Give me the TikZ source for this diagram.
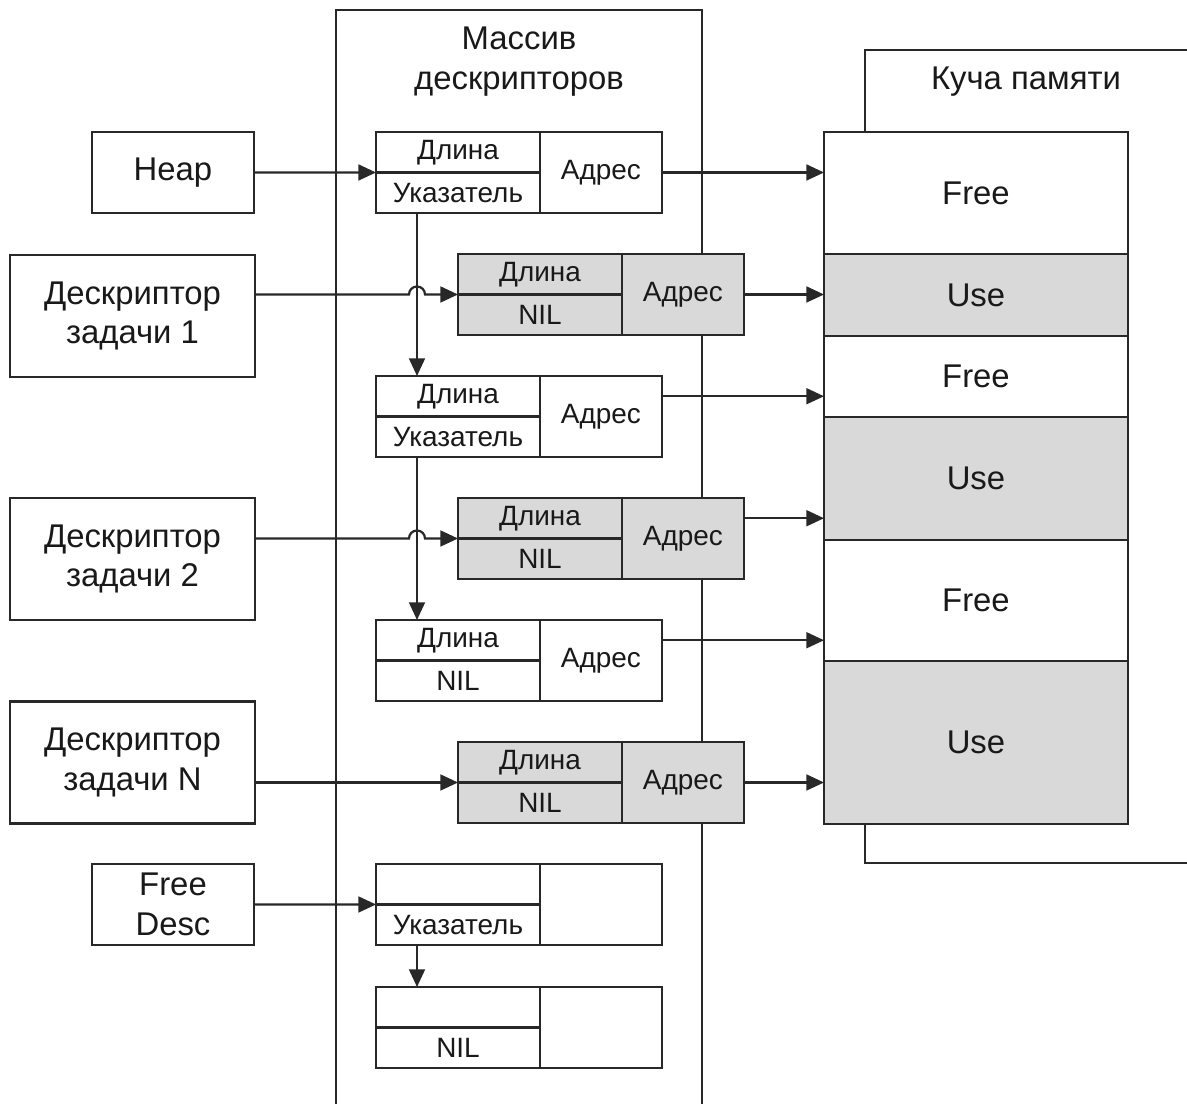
\documentclass[tikz,border=0pt]{standalone}
\usepackage{fontspec}
\setmainfont{Liberation Sans}
\usepackage{xcolor}
\usepackage{tikz}
\usetikzlibrary{arrows.meta, positioning, calc}
\definecolor{LineGray}{RGB}{40, 40, 40}
\definecolor{CellGray}{RGB}{217, 217, 217}
\definecolor{DarkText}{RGB}{25, 25, 25}

\tikzset{
  box/.style={draw=LineGray, line width=1.25pt, fill=white, text=DarkText, inner sep=0pt,
              outer sep=0pt, align=center, font=\fontsize{18.7}{22.7}\selectfont},
  cellL/.style={box, minimum width=3.28cm, minimum height=0.81cm, font=\fontsize{15.9}{19}\selectfont},
  cellR/.style={cellL, minimum width=2.44cm, minimum height=1.62cm},
  memblk/.style={box, minimum width=6.08cm},
  title/.style={text=DarkText, align=center, font=\fontsize{18.7}{22.7}\selectfont},
  frame/.style={draw=LineGray, line width=1.25pt},
  arr/.style={draw=LineGray, line width=1.25pt, -{Triangle[length=10pt, width=9pt]}}
}

% one descriptor: name, left x, top y, fill, upper, lower, right
\newcommand{\descrec}[7]{%
  \node[cellL, fill=#4, anchor=north west] (#1a) at (#2,#3) {#5};
  \node[cellL, fill=#4, below=0pt of #1a] (#1b) {#6};
  \node[cellR, fill=#4, anchor=north west] (#1c) at (#1a.north east) {#7};
}

\begin{document}
\begin{tikzpicture}[x=0.02cm, y=-0.02cm]
    \useasboundingbox (0,0) rectangle (1187,1104);

    % frames
    \draw[frame] (336,1104) -- (336,10) -- (702,10) -- (702,1104);
    \draw[frame] (1187,50) -- (865,50) -- (865,863) -- (1187,863);
    \node[title] (arraytitle) at (519,62) {Массив\\дескрипторов};
    \node[title] (heaptitle) at (1026,82) {Куча памяти};

    % memory
    \node[memblk, anchor=north west, minimum height=2.44cm] (m1) at (824,132) {Free};
    \node[memblk, fill=CellGray, minimum height=1.64cm, below=0pt of m1] (m2) {Use};
    \node[memblk, minimum height=1.62cm, below=0pt of m2] (m3) {Free};
    \node[memblk, fill=CellGray, minimum height=2.46cm, below=0pt of m3] (m4) {Use};
    \node[memblk, minimum height=2.42cm, below=0pt of m4] (m5) {Free};
    \node[memblk, fill=CellGray, minimum height=3.26cm, below=0pt of m5] (m6) {Use};

    % descriptors
    \descrec{b1}{376}{132}{white}{Длина}{Указатель}{Адрес}
    \descrec{g2}{458}{254}{CellGray}{Длина}{NIL}{Адрес}
    \descrec{b3}{376}{376}{white}{Длина}{Указатель}{Адрес}
    \descrec{g4}{458}{498}{CellGray}{Длина}{NIL}{Адрес}
    \descrec{b5}{376}{620}{white}{Длина}{NIL}{Адрес}
    \descrec{g6}{458}{742}{CellGray}{Длина}{NIL}{Адрес}
    \descrec{f1}{376}{864}{white}{}{Указатель}{}
    \descrec{f2}{376}{987}{white}{}{NIL}{}

    % owners
    \node[box, minimum width=3.24cm, minimum height=1.62cm] (heap) at (173,172.5) {Heap};
    \node[box, minimum width=4.9cm, minimum height=2.44cm] (task1) at (132.5,316) {Дескриптор\\задачи 1};
    \node[box, minimum width=4.9cm, minimum height=2.44cm] (task2) at (132.5,559) {Дескриптор\\задачи 2};
    \node[box, minimum width=4.9cm, minimum height=2.44cm] (taskN) at (132.5,762.5) {Дескриптор\\задачи N};
    \node[box, minimum width=3.24cm, minimum height=1.62cm] (freedesc) at (173,904.5) {Free\\Desc};

    % links
    \coordinate (v1) at ($(b1b.south west)+(41,0)$);
    \coordinate (v3) at ($(b3b.south west)+(41,0)$);
    \coordinate (v7) at ($(f1b.south west)+(41,0)$);
    \draw[arr] (v1) -- (v1 |- b3a.north);
    \draw[arr] (v3) -- (v3 |- b5a.north);
    \draw[arr] (v7) -- (v7 |- f2a.north);

    \draw[arr] (heap.east) -- (b1a.south west);
    \draw[arr] (task1.east |- g2a.south west) -- ($(v1 |- g2a.south west)+(-8,0)$)
        arc[start angle=180, end angle=360, radius=8] -- (g2a.south west);
    \draw[arr] (task2.east |- g4a.south west) -- ($(v3 |- g4a.south west)+(-8,0)$)
        arc[start angle=180, end angle=360, radius=8] -- (g4a.south west);
    \draw[arr] (taskN.east |- g6a.south west) -- (g6a.south west);
    \draw[arr] (freedesc.east) -- (f1a.south west);

    % addresses
    \draw[arr] (b1c.east) -- (m1.west |- b1c.east);
    \draw[arr] (g2c.east) -- (m2.west |- g2c.east);
    \draw[arr] (b3c.east |- b3a.center) -- (m3.west |- b3a.center);
    \draw[arr] (g4c.east |- g4a.center) -- (m4.west |- g4a.center);
    \draw[arr] (b5c.east |- b5a.center) -- (m5.west |- b5a.center);
    \draw[arr] (g6c.east) -- (m6.west |- g6c.east);
\end{tikzpicture}
\end{document}
